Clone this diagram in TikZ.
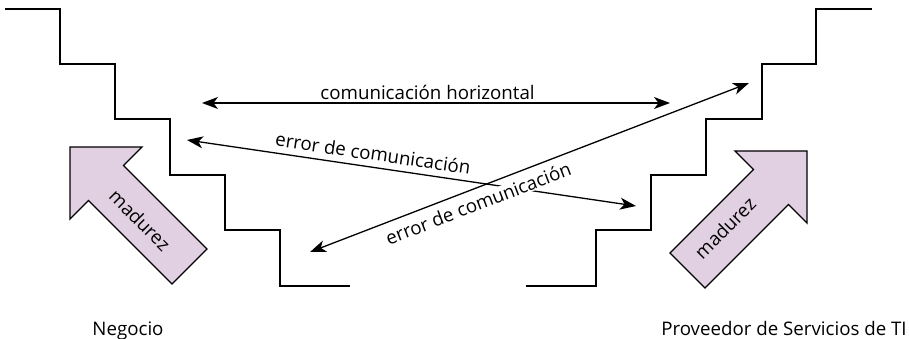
\documentclass[tikz,border=0pt]{standalone}
\usepackage{fontspec}
\setmainfont{Open Sans}
\usetikzlibrary{arrows.meta}
\definecolor{madfill}{RGB}{224,208,226}
\begin{document}
\begin{tikzpicture}[x=1pt,y=-1pt,
  stair/.style={line width=1.5pt, line join=miter},
  comm/.style={line width=1.3pt, {Stealth[length=16pt,width=12pt,inset=4.5pt]}-{Stealth[length=16pt,width=12pt,inset=4.5pt]}},
  lbl/.style={font=\fontsize{18.7}{22}\selectfont, inner sep=2pt},
  mad/.style={draw, fill=madfill, line width=1.3pt, line join=miter},
  madtext/.style={font=\fontsize{18.7}{22}\selectfont, inner sep=0pt}
]
\useasboundingbox (0,0) rectangle (909,339);

% staircases
\draw[stair] (5,9) -- (60,9) -- (60,64) -- (115,64) -- (115,119) -- (170,119) -- (170,175)
  -- (225,175) -- (225,230) -- (280,230) -- (280,286) -- (350,286);
\draw[stair] (526,286) -- (596,286) -- (596,230) -- (651,230) -- (651,175) -- (706,175)
  -- (706,119) -- (762,119) -- (762,64) -- (816,64) -- (816,9) -- (872,9);

% maturity arrows
\draw[mad] (70,147) -- (142,147) -- (123.5,165.5) -- (207,249) -- (172,284) -- (88.5,200.5) -- (70,219) -- cycle;
\node[madtext, rotate=-45] (madL) at (140,220) {madurez};
\draw[mad] (807,151) -- (807,223) -- (788.5,204.5) -- (705,288) -- (670,253) -- (753.5,169.5) -- (735,151) -- cycle;
\node[madtext, rotate=45] (madR) at (725,228) {madurez};

% connector end points
\coordinate (h1) at (202,103);
\coordinate (h2) at (670,103);
\coordinate (e1a) at (187,140);
\coordinate (e1b) at (636,206);
\coordinate (e2a) at (310,252);
\coordinate (e2b) at (749,83);

\draw[comm] (h1) -- node[lbl, above, pos=0.482, inner sep=3pt] (lh) {comunicación horizontal} (h2);
\draw[comm] (e1a) -- node[lbl, sloped, above, pos=0.41, inner sep=6pt] (le1) {error de comunicación} (e1b);
\draw[comm] (e2a) -- node[lbl, sloped, below=6pt, pos=0.371, fill=white, inner sep=1pt] (le2) {error de comunicación} (e2b);

% bottom labels
\node[lbl, anchor=base] (neg) at (128,335) {Negocio};
\node[lbl, anchor=base] (prov) at (784,335) {Proveedor de Servicios de TI};
\end{tikzpicture}
\end{document}
